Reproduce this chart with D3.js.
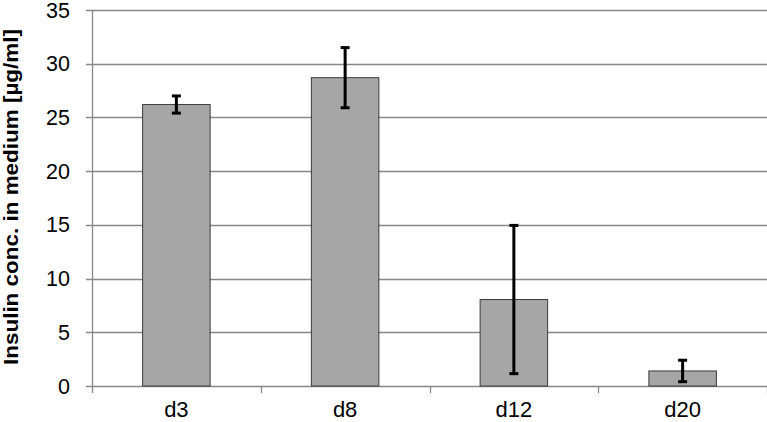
<!DOCTYPE html>
<html><head><meta charset="utf-8">
<script src="https://cdn.jsdelivr.net/npm/d3@7"></script>
<style>html,body{margin:0;padding:0;background:#fff;}svg{display:block;font-family:"Liberation Sans",Arial,sans-serif;}</style>
</head><body>
<svg id="c" width="767" height="422"></svg>
<script>
const categories = ["d3", "d8", "d12", "d20"];
const values = [26.2, 28.7, 8.05, 1.4];
const errors = [0.8, 2.8, 6.9, 1.0];
const yTicks = [0, 5, 10, 15, 20, 25, 30, 35];
const yTitle = "Insulin conc. in medium [µg/ml]";

const svg = d3.select("#c");
const m = {left: 92, right: 0, top: 10, bottom: 36};
const W = 767, H = 422;
const x = d3.scaleBand().domain(categories).range([m.left, W - m.right]).paddingInner(0.6).paddingOuter(0.3);
const y = d3.scaleLinear().domain([0, 35]).range([H - m.bottom, m.top]);

// gridlines
svg.append("g").selectAll("line").data(yTicks).join("line")
  .attr("x1", m.left - 6).attr("x2", W).attr("y1", d => Math.round(y(d)) + 0.5).attr("y2", d => Math.round(y(d)) + 0.5)
  .attr("stroke", "#888").attr("stroke-width", 1.3);

// y axis line
svg.append("line").attr("x1", m.left + 0.5).attr("x2", m.left + 0.5).attr("y1", y(35)).attr("y2", y(0))
  .attr("stroke", "#888").attr("stroke-width", 1.3);

// y labels
svg.append("g").selectAll("text").data(yTicks).join("text")
  .attr("x", 70).attr("y", d => y(d) + 7.5).attr("text-anchor", "end")
  .attr("font-size", 21.5).attr("fill", "#000").text(d => d);

// x axis ticks (category boundaries)
const bounds = d3.range(categories.length + 1).map(i => m.left + i * (W - m.left) / categories.length);
svg.append("g").selectAll("line").data(bounds).join("line")
  .attr("x1", d => Math.round(d) + 0.5).attr("x2", d => Math.round(d) + 0.5)
  .attr("y1", y(0)).attr("y2", y(0) + 7).attr("stroke", "#888").attr("stroke-width", 1.3);

// bars
svg.append("g").selectAll("rect").data(categories).join("rect")
  .attr("x", d => x(d)).attr("width", x.bandwidth())
  .attr("y", (d, i) => y(values[i])).attr("height", (d, i) => y(0) - y(values[i]))
  .attr("fill", "#a6a6a6").attr("stroke", "#3c3c3c").attr("stroke-width", 1);

// error bars
const eb = svg.append("g").attr("stroke", "#000").attr("stroke-width", 3);
categories.forEach((c, i) => {
  const cx = x(c) + x.bandwidth() / 2;
  const y1 = y(values[i] + errors[i]), y2 = y(values[i] - errors[i]);
  eb.append("line").attr("x1", cx).attr("x2", cx).attr("y1", y1).attr("y2", y2);
  eb.append("line").attr("x1", cx - 4.5).attr("x2", cx + 4.5).attr("y1", y1).attr("y2", y1);
  eb.append("line").attr("x1", cx - 4.5).attr("x2", cx + 4.5).attr("y1", y2).attr("y2", y2);
});

// x labels
svg.append("g").selectAll("text").data(categories).join("text")
  .attr("x", d => x(d) + x.bandwidth() / 2).attr("y", 417).attr("text-anchor", "middle")
  .attr("font-size", 22).attr("fill", "#000").text(d => d);

// y title
svg.append("text").attr("transform", `translate(18,197) rotate(-90)`)
  .attr("text-anchor", "middle").attr("font-size", 21).attr("font-weight", "bold").attr("fill", "#000")
  .attr("textLength", 336).attr("lengthAdjust", "spacingAndGlyphs").text(yTitle);
</script>
</body></html>
